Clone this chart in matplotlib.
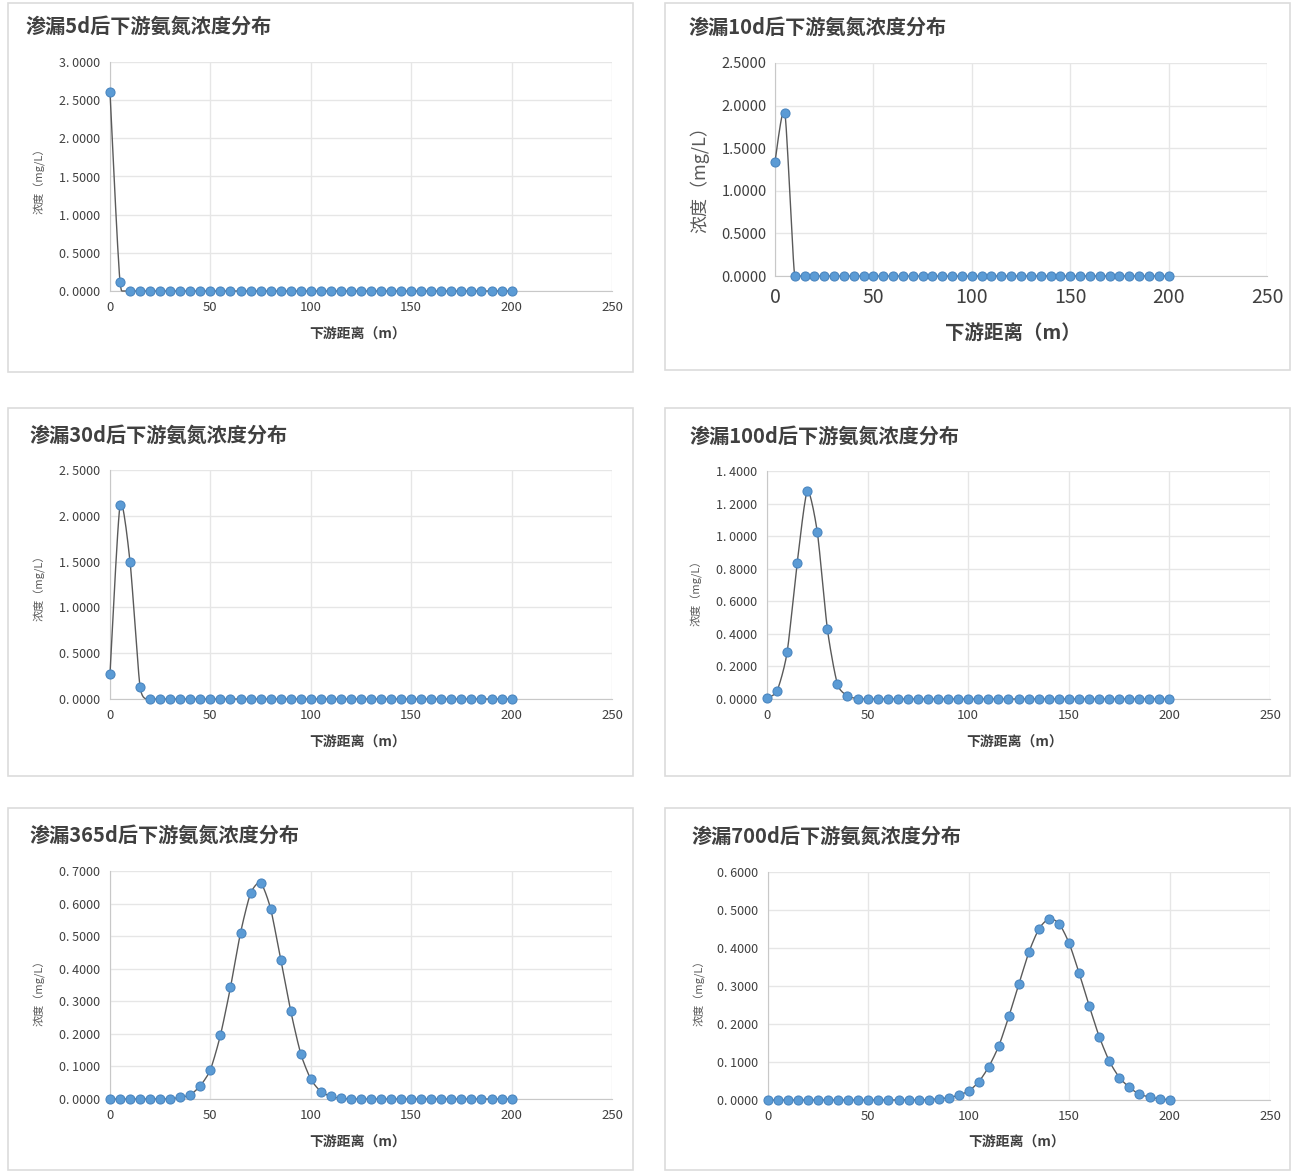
import numpy as np
import matplotlib
matplotlib.use("Agg")
import matplotlib.pyplot as plt
from matplotlib.patches import Rectangle
from matplotlib.ticker import FuncFormatter

plt.rcParams['font.family'] = ['Noto Sans CJK SC', 'DejaVu Sans']

# ---------------- data ----------------
distance = list(range(0, 205, 5))  # 0..200 m, 41 points

conc_5d = [2.605, 0.118] + [0.0] * 39
conc_10d = [1.343, 1.915] + [0.0] * 39
conc_30d = [0.277, 2.114, 1.494, 0.131] + [0.0] * 37
conc_100d = [0.006, 0.051, 0.287, 0.836, 1.275, 1.025, 0.430, 0.092, 0.020, 0.002] + [0.0] * 31
conc_365d = ([0.0, 0.0, 0.0, 0.0, 0.0, 0.0, 0.001, 0.005, 0.013, 0.041, 0.090, 0.196,
              0.343, 0.510, 0.631, 0.664, 0.584, 0.428, 0.270, 0.139, 0.061, 0.023,
              0.008, 0.002] + [0.0] * 17)
conc_700d = ([0.0] * 16 + [0.001, 0.003, 0.006, 0.013, 0.024, 0.048, 0.088, 0.143,
              0.221, 0.306, 0.390, 0.451, 0.477, 0.464, 0.412, 0.333, 0.247, 0.166,
              0.102, 0.059, 0.033, 0.015, 0.008, 0.003, 0.001])

titles = ["渗漏5d后下游氨氮浓度分布", "渗漏10d后下游氨氮浓度分布", "渗漏30d后下游氨氮浓度分布",
          "渗漏100d后下游氨氮浓度分布", "渗漏365d后下游氨氮浓度分布", "渗漏700d后下游氨氮浓度分布"]
series = [conc_5d, conc_10d, conc_30d, conc_100d, conc_365d, conc_700d]
y_max = [3.0, 2.5, 2.5, 1.4, 0.7, 0.6]
y_step = [0.5, 0.5, 0.5, 0.2, 0.1, 0.1]
x_label = "下游距离（m）"
y_label = "浓度（mg/L）"

# ---------------- layout (pixels) ----------------
W, H = 1293, 1173
cards = [(8, 3, 633, 372), (665, 3, 1290, 370), (8, 408, 633, 776),
         (665, 408, 1290, 776), (8, 808, 633, 1170), (665, 808, 1290, 1170)]
plot_boxes = [(110, 612, 62, 291), (775, 1267, 63, 276), (110, 612, 470, 699),
              (767, 1270, 471, 699), (110, 612, 871, 1099), (768, 1270, 872, 1100)]
title_pos = [(25, 26), (688, 27), (30, 435), (690, 436), (30, 835), (692, 836)]
xlab_pos = [(358, 335), (1013, 334), (358, 743), (1015, 743), (358, 1143), (1017, 1143)]
ylab_pos = [(40, 178), (700, 175), (40, 585), (697, 590), (40, 990), (700, 990)]
big = [False, True, False, False, False, False]


def fx(px):
    return px / W


def fy(py):
    return 1 - py / H


def smooth(x, y, n=12, tension=0.7):
    x = np.asarray(x, float)
    y = np.asarray(y, float)
    xs, ys = [], []
    P = np.column_stack([x, y])
    Pp = np.vstack([P[0], P, P[-1]])
    t = np.linspace(0, 1, n, endpoint=False)
    for i in range(1, len(Pp) - 2):
        p0, p1, p2, p3 = Pp[i - 1], Pp[i], Pp[i + 1], Pp[i + 2]
        m1 = tension * (p2 - p0) / 2
        m2 = tension * (p3 - p1) / 2
        for tt in t:
            h00 = 2 * tt ** 3 - 3 * tt ** 2 + 1
            h10 = tt ** 3 - 2 * tt ** 2 + tt
            h01 = -2 * tt ** 3 + 3 * tt ** 2
            h11 = tt ** 3 - tt ** 2
            pt = h00 * p1 + h10 * m1 + h01 * p2 + h11 * m2
            xs.append(pt[0])
            ys.append(pt[1])
    xs.append(x[-1])
    ys.append(y[-1])
    return np.array(xs), np.clip(np.array(ys), 0, None)


fig = plt.figure(figsize=(W / 100, H / 100), dpi=100)
fig.patch.set_facecolor("white")

for i in range(6):
    cx0, cy0, cx1, cy1 = cards[i]
    fig.patches.append(Rectangle((fx(cx0), fy(cy1)), fx(cx1 - cx0), (cy1 - cy0) / H,
                                 transform=fig.transFigure, fill=False,
                                 edgecolor="#dcdcdc", linewidth=1.2))
    l, r, t, b = plot_boxes[i]
    ax = fig.add_axes([fx(l), fy(b), fx(r - l), (b - t) / H])
    ax.set_xlim(0, 250)
    ax.set_ylim(0, y_max[i])
    ax.set_xticks(range(0, 251, 50))
    ax.set_yticks(np.arange(0, y_max[i] + 1e-9, y_step[i]))
    sep = "." if big[i] else ". "
    ax.yaxis.set_major_formatter(FuncFormatter(
        lambda v, p, s=sep: ("%.4f" % v).replace(".", s)))
    ax.grid(True, color="#e6e6e6", linewidth=1.0)
    ax.set_axisbelow(True)
    for s in ["top", "right"]:
        ax.spines[s].set_visible(False)
    ax.spines["left"].set_color("#c8c8c8")
    ax.spines["bottom"].set_color("#c8c8c8")
    ax.tick_params(length=0, colors="#404040")
    if big[i]:
        ax.tick_params(axis="x", labelsize=14, pad=8)
        ax.tick_params(axis="y", labelsize=10.5, pad=6)
    else:
        ax.tick_params(axis="x", labelsize=9.5, pad=7)
        ax.tick_params(axis="y", labelsize=9, pad=7)

    xs, ys = smooth(distance, series[i])
    ax.plot(xs, ys, color="#5a5a5a", linewidth=1.0, zorder=3, clip_on=False)
    ax.plot(distance, series[i], linestyle="none", marker="o", markersize=6.5,
            markerfacecolor="#5b9bd5", markeredgecolor="#4a86c0", markeredgewidth=0.8,
            zorder=4, clip_on=False)

    tx, ty = title_pos[i]
    fig.text(fx(tx), fy(ty), titles[i], fontsize=14.5, fontweight="bold",
             color="#404040", ha="left", va="center")
    xx, xy = xlab_pos[i]
    fig.text(fx(xx), fy(xy), x_label, fontsize=14 if big[i] else 10,
             fontweight="bold", color="#404040", ha="center", va="center")
    yx, yy = ylab_pos[i]
    fig.text(fx(yx), fy(yy), y_label, fontsize=13 if big[i] else 8,
             color="#595959", ha="center", va="center", rotation=90)

fig.savefig("out.png", dpi=100, facecolor="white")
